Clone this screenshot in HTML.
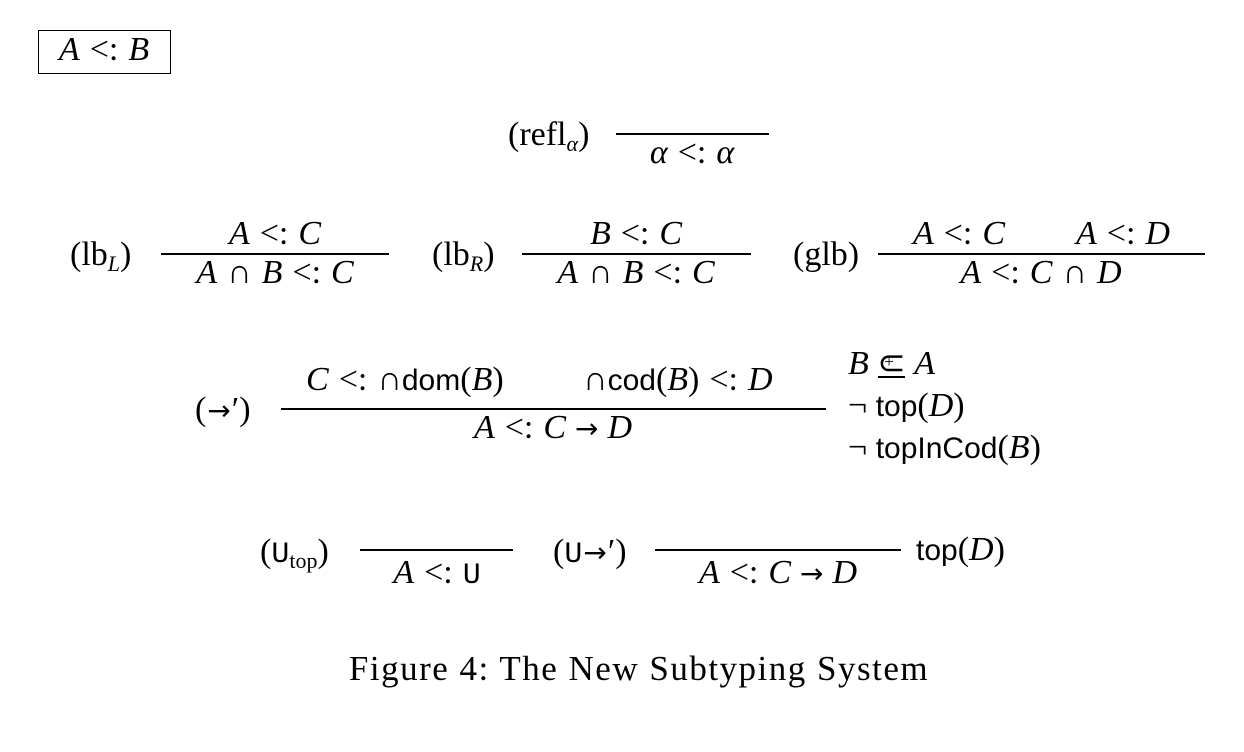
<!DOCTYPE html>
<html><head><meta charset="utf-8"><style>
body{margin:0;width:1244px;height:752px;background:#fff;position:relative;overflow:hidden;color:#000}
.t{position:absolute;white-space:nowrap;font-family:"Liberation Serif",serif;font-size:34px;line-height:34px}
.c{transform:translateX(-50%)}
.s{font-family:"Liberation Sans","DejaVu Sans",sans-serif;font-size:30px}
.m{font-family:"Liberation Mono",monospace;font-size:30px}
.o{margin:0 10px}
.a{font-family:"DejaVu Sans",sans-serif;font-size:28px;margin:0 9px}
i{font-style:italic}
sub{font-size:22px;vertical-align:-6px;line-height:0}
.l{position:absolute;height:1.5px;background:#000}
</style></head><body>
<div style="position:absolute;left:38px;top:30px;width:131px;height:42px;border:1.5px solid #000"></div>
<div class="t c" style="left:104px;top:33px"><i>A</i><span class="o">&lt;:</span><i>B</i></div>

<div class="t" style="left:508px;top:118px">(refl<sub><i>α</i></sub>)</div>
<div class="l" style="left:616px;width:153px;top:133px"></div>
<div class="t c" style="left:692px;top:136px"><i>α</i><span class="o">&lt;:</span><i>α</i></div>

<div class="t" style="left:70px;top:238px">(lb<sub><i>L</i></sub>)</div>
<div class="l" style="left:161px;width:228px;top:253px"></div>
<div class="t c" style="left:275px;top:217px"><i>A</i><span class="o">&lt;:</span><i>C</i></div>
<div class="t c" style="left:275px;top:256px"><i>A</i><span class="o">∩</span><i>B</i><span class="o">&lt;:</span><i>C</i></div>

<div class="t" style="left:432px;top:238px">(lb<sub><i>R</i></sub>)</div>
<div class="l" style="left:522px;width:229px;top:253px"></div>
<div class="t c" style="left:636px;top:217px"><i>B</i><span class="o">&lt;:</span><i>C</i></div>
<div class="t c" style="left:636px;top:256px"><i>A</i><span class="o">∩</span><i>B</i><span class="o">&lt;:</span><i>C</i></div>

<div class="t" style="left:793px;top:238px">(glb)</div>
<div class="l" style="left:878px;width:327px;top:253px"></div>
<div class="t c" style="left:959px;top:217px"><i>A</i><span class="o">&lt;:</span><i>C</i></div>
<div class="t c" style="left:1123px;top:217px"><i>A</i><span class="o">&lt;:</span><i>D</i></div>
<div class="t c" style="left:1041px;top:256px"><i>A</i><span class="o">&lt;:</span><i>C</i><span class="o">∩</span><i>D</i></div>

<div class="t" style="left:195px;top:393px">(<span class="a" style="margin:0 1px">→</span>′)</div>
<div class="l" style="left:281px;width:545px;top:408px"></div>
<div class="t" style="left:306px;top:363px"><i>C</i><span class="o">&lt;:</span>∩<span class="s">dom</span>(<i>B</i>)</div>
<div class="t" style="left:583px;top:363px">∩<span class="s">cod</span>(<i>B</i>)<span class="o">&lt;:</span><i>D</i></div>
<div class="t c" style="left:553px;top:411px"><i>A</i><span class="o">&lt;:</span><i>C</i><span class="a">→</span><i>D</i></div>

<div class="t" style="left:848px;top:347px"><i>B</i> <span style="position:relative;display:inline-block">⊂<span style="position:absolute;left:7px;top:-2px;font-size:17px">+</span><span style="position:absolute;left:1px;right:1px;top:29px;height:1.5px;background:#000"></span></span> <i>A</i></div>
<div class="t" style="left:848px;top:389px">¬ <span class="s">top</span>(<i>D</i>)</div>
<div class="t" style="left:848px;top:431px">¬ <span class="s">topInCod</span>(<i>B</i>)</div>

<div class="t" style="left:260px;top:535px">(<span class="m">U</span><sub>top</sub>)</div>
<div class="l" style="left:360px;width:153px;top:549px"></div>
<div class="t c" style="left:437px;top:556px"><i>A</i><span class="o">&lt;:</span><span class="m">U</span></div>

<div class="t" style="left:553px;top:535px">(<span class="m">U</span><span class="a" style="margin:0 1px">→</span>′)</div>
<div class="l" style="left:655px;width:246px;top:549px"></div>
<div class="t c" style="left:778px;top:556px"><i>A</i><span class="o">&lt;:</span><i>C</i><span class="a">→</span><i>D</i></div>
<div class="t" style="left:916px;top:533px"><span class="s">top</span>(<i>D</i>)</div>

<div class="t c" style="left:639px;top:652px;font-size:35px;letter-spacing:1.5px">Figure 4: The New Subtyping System</div>
</body></html>
